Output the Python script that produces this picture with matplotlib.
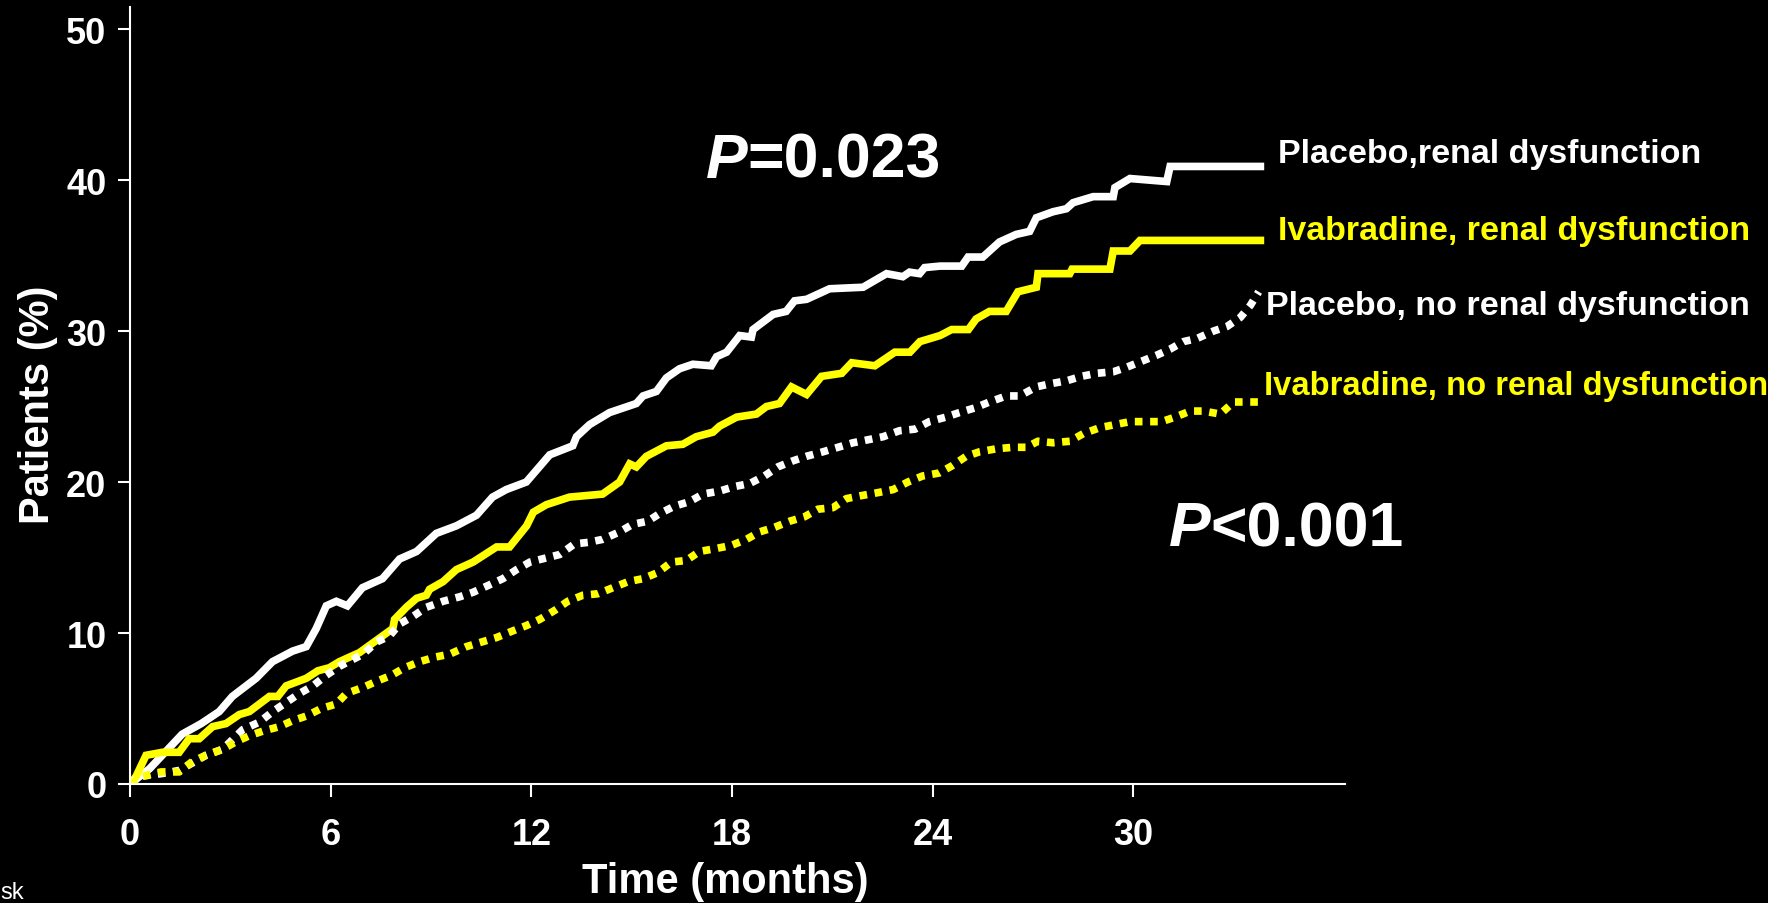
import numpy as np
import matplotlib
matplotlib.use('Agg')
from matplotlib import pyplot as plt

# Kaplan-Meier style curves (months, % patients)
placebo_renal_t = [0, 0.58, 1.56, 2.13, 2.67, 3.06, 3.77, 4.26, 4.86, 5.27, 5.57, 5.87, 6.17, 6.5, 6.95,
                   7.55, 8.06, 8.57, 9.16, 9.76, 10.36, 10.84, 11.25, 11.85, 12.55, 13.24, 13.35, 13.74,
                   14.34, 15.14, 15.34, 15.74, 16.04, 16.43, 16.83, 17.38, 17.54, 17.84, 18.23, 18.58,
                   18.63, 19.23, 19.62, 19.87, 20.23, 20.92, 21.92, 22.62, 23.11, 23.31, 23.61, 23.76,
                   24.22, 24.87, 25.06, 25.5, 26.0, 26.5, 26.9, 27.1, 27.6, 28.0, 28.2, 28.8, 29.4,
                   29.45, 29.9, 31.0, 31.1, 33.8]
placebo_renal_y = [0, 1.0, 3.3, 4.0, 4.8, 5.8, 7.0, 8.1, 8.8, 9.1, 10.3, 11.8, 12.1, 11.8, 13.0,
                   13.6, 14.9, 15.4, 16.6, 17.1, 17.8, 19.0, 19.5, 20.0, 21.8, 22.4, 23.0, 23.8,
                   24.6, 25.2, 25.7, 26.0, 26.9, 27.5, 27.8, 27.7, 28.3, 28.6, 29.7, 29.6,
                   30.1, 31.1, 31.3, 32.0, 32.1, 32.8, 32.9, 33.8, 33.6, 33.9, 33.8, 34.2,
                   34.3, 34.3, 34.9, 34.9, 35.9, 36.4, 36.6, 37.5, 37.9, 38.1, 38.5, 38.9, 38.9,
                   39.5, 40.1, 39.9, 40.9, 40.9]

ivab_renal_t = [0, 0.18, 0.48, 0.97, 1.47, 1.77, 2.07, 2.47, 2.87, 3.27, 3.57, 4.17, 4.42, 4.67, 5.27,
                5.62, 5.96, 6.26, 6.86, 7.36, 7.86, 7.91, 8.26, 8.57, 8.86, 8.96, 9.36, 9.76, 10.26,
                10.96, 11.35, 11.86, 12.06, 12.45, 13.14, 14.13, 14.64, 14.94, 15.14, 15.44, 16.04,
                16.53, 16.93, 17.43, 17.63, 18.14, 18.73, 19.03, 19.42, 19.78, 20.23, 20.68, 21.28,
                21.58, 22.27, 22.87, 23.32, 23.62, 24.22, 24.57, 25.07, 25.3, 25.7, 26.2, 26.55,
                27.1, 27.15, 28.1, 28.17, 29.3, 29.4, 29.9, 30.2, 33.8]
ivab_renal_y = [0, 0.5, 1.9, 2.1, 2.1, 3.0, 3.0, 3.8, 4.0, 4.6, 4.8, 5.8, 5.8, 6.5, 7.0,
                7.5, 7.7, 8.1, 8.7, 9.5, 10.3, 10.9, 11.7, 12.3, 12.5, 12.9, 13.4, 14.2, 14.7,
                15.7, 15.7, 17.1, 18.0, 18.5, 19.0, 19.2, 20.0, 21.2, 21.0, 21.7, 22.4,
                22.5, 23.0, 23.3, 23.7, 24.3, 24.5, 25.0, 25.2, 26.3, 25.8, 27.0, 27.2,
                27.9, 27.7, 28.6, 28.6, 29.3, 29.7, 30.1, 30.1, 30.8, 31.3, 31.3, 32.6,
                32.9, 33.8, 33.8, 34.1, 34.1, 35.3, 35.3, 36.0, 36.0]

placebo_norenal_t = [0, 0.28, 0.98, 1.47, 2.27, 2.77, 3.37, 3.87, 4.27, 4.67, 5.07, 5.47, 5.87, 6.27,
                     6.97, 7.37, 7.76, 8.06, 8.46, 8.86, 9.36, 9.86, 10.26, 10.66, 11.15, 11.56, 11.96,
                     12.85, 13.29, 13.69, 14.13, 14.64, 15.03, 15.48, 15.83, 16.28, 16.73, 17.13, 17.63,
                     18.08, 18.53, 18.97, 19.37, 19.82, 20.22, 20.72, 21.17, 21.62, 22.07, 22.52, 23.01,
                     23.47, 23.9, 24.4, 24.8, 25.25, 25.7, 26.2, 26.6, 27.1, 27.5, 28.0, 28.45, 28.9,
                     29.4, 29.8, 30.25, 30.7, 31.1, 31.5, 31.9, 32.4, 32.8, 33.2, 33.5, 33.75]
placebo_norenal_y = [0, 0.5, 0.7, 0.9, 1.9, 2.3, 3.6, 4.1, 4.8, 5.4, 6.0, 6.5, 7.2, 7.8,
                     8.6, 9.4, 9.8, 10.6, 11.1, 11.7, 12.1, 12.4, 12.7, 13.1, 13.6, 14.2, 14.7,
                     15.2, 15.9, 16.0, 16.2, 16.7, 17.2, 17.4, 17.9, 18.4, 18.7, 19.2, 19.4,
                     19.7, 19.9, 20.4, 21.0, 21.4, 21.7, 22.0, 22.3, 22.6, 22.8, 23.0, 23.4,
                     23.5, 24.0, 24.3, 24.6, 24.9, 25.3, 25.7, 25.7, 26.3, 26.5, 26.7, 27.0, 27.2,
                     27.3, 27.6, 28.0, 28.4, 28.8, 29.3, 29.5, 30.0, 30.3, 30.9, 31.7, 32.6]

ivab_norenal_t = [0, 0.37, 0.93, 1.47, 1.87, 2.27, 2.77, 3.17, 3.57, 3.97, 4.47, 4.87, 5.27, 5.72,
                  6.17, 6.47, 6.97, 7.37, 7.82, 8.21, 8.66, 9.11, 9.56, 10.06, 10.51, 10.96, 11.4,
                  11.86, 12.25, 12.7, 13.09, 13.54, 13.99, 14.44, 14.89, 15.34, 15.78, 16.19, 16.63,
                  17.03, 17.53, 17.98, 18.43, 18.83, 19.27, 19.72, 20.17, 20.57, 21.02, 21.42, 21.87,
                  22.37, 22.82, 23.26, 23.7, 24.2, 24.6, 25.0, 25.4, 25.9, 26.4, 26.8, 27.15, 27.6,
                  28.1, 28.5, 29.0, 29.45, 29.9, 30.4, 30.85, 31.25, 31.7, 32.1, 32.6, 33.0, 33.4, 33.8]
ivab_norenal_y = [0, 0.5, 0.8, 0.8, 1.5, 1.9, 2.3, 2.8, 3.2, 3.5, 3.8, 4.2, 4.5, 5.0,
                  5.3, 6.0, 6.4, 6.8, 7.2, 7.7, 8.1, 8.4, 8.6, 9.1, 9.4, 9.7, 10.1,
                  10.5, 10.9, 11.5, 12.1, 12.5, 12.6, 13.0, 13.4, 13.6, 14.0, 14.7, 14.8,
                  15.4, 15.6, 15.8, 16.2, 16.7, 17.0, 17.4, 17.7, 18.2, 18.3, 18.9, 19.1,
                  19.3, 19.5, 20.0, 20.4, 20.6, 21.1, 21.7, 22.0, 22.2, 22.3, 22.3, 22.7, 22.6,
                  22.7, 23.2, 23.6, 23.8, 24.0, 24.0, 24.0, 24.3, 24.7, 24.7, 24.5, 25.3, 25.3, 25.3]

series_labels = ['Placebo,renal dysfunction', 'Ivabradine, renal dysfunction',
                 'Placebo, no renal dysfunction', 'Ivabradine, no renal dysfunction']
x_ticks = [0, 6, 12, 18, 24, 30]
y_ticks = [0, 10, 20, 30, 40, 50]

plt.rcParams['font.family'] = ['Liberation Sans', 'DejaVu Sans']
plt.rcParams['font.weight'] = 'bold'

W, H = 1768, 904
fig = plt.figure(figsize=(W / 100, H / 100), dpi=100, facecolor='black')
ax = fig.add_axes([130 / W, (H - 785) / H, (1345 - 130) / W, (785 - 8) / H])
ax.set_facecolor('black')

lw = 5.5
ax.plot(placebo_renal_t, placebo_renal_y, color='white', lw=lw, solid_joinstyle='miter')
ax.plot(ivab_renal_t, ivab_renal_y, color='#ffff00', lw=lw, solid_joinstyle='miter')
ax.plot(placebo_norenal_t, placebo_norenal_y, color='white', lw=lw, linestyle=(0, (1, 1)),
        dash_capstyle='butt')
ax.plot(ivab_norenal_t, ivab_norenal_y, color='#ffff00', lw=lw, linestyle=(0, (1, 1)),
        dash_capstyle='butt')

ax.set_xlim(0, 36.33)
ax.set_ylim(0, 51.46)
ax.set_xticks(x_ticks)
ax.set_yticks(y_ticks)
for side in ['top', 'right']:
    ax.spines[side].set_visible(False)
for side in ['left', 'bottom']:
    ax.spines[side].set_color('white')
    ax.spines[side].set_linewidth(1.5)
ax.tick_params(colors='white', width=1.5, length=9, labelsize=26)
ax.tick_params(axis='x', pad=15)
ax.tick_params(axis='y', pad=8)
for lab in ax.get_xticklabels() + ax.get_yticklabels():
    lab.set_fontweight('bold')

ax.set_xlabel('Time (months)', color='white', fontsize=30, fontweight='bold', va='center')
ax.xaxis.set_label_coords(0.49, -0.125)
ax.set_ylabel('Patients (%)', color='white', fontsize=30, fontweight='bold', va='center')
ax.yaxis.set_label_coords(-0.076, 0.49)

# curve labels at the right-hand end
label_pos = [(1278, 155, 'white', 24.5), (1278, 232, '#ffff00', 24.5),
             (1266, 307, 'white', 24.5), (1264, 387, '#ffff00', 23.6)]
for (px, py, c, fs), txt in zip(label_pos, series_labels):
    fig.text(px / W, 1 - py / H, txt, color=c, fontsize=fs, fontweight='bold', ha='left', va='center')

# p-values: italic P followed by the number
for px, py, rest in [(706, 161, '=0.023'), (1169, 530, '<0.001')]:
    t = fig.text(px / W, 1 - py / H, 'P', color='white', fontsize=45, fontweight='bold',
                 style='italic', ha='left', va='center')
    ax.annotate(rest, xy=(1, 0), xycoords=t, color='white', fontsize=45, fontweight='bold',
                ha='left', va='bottom', annotation_clip=False)

fig.text(0, 5 / H, 'sk', color='white', fontsize=17, fontweight='normal', ha='left', va='baseline')

fig.savefig('out.png', dpi=100, facecolor='black')
